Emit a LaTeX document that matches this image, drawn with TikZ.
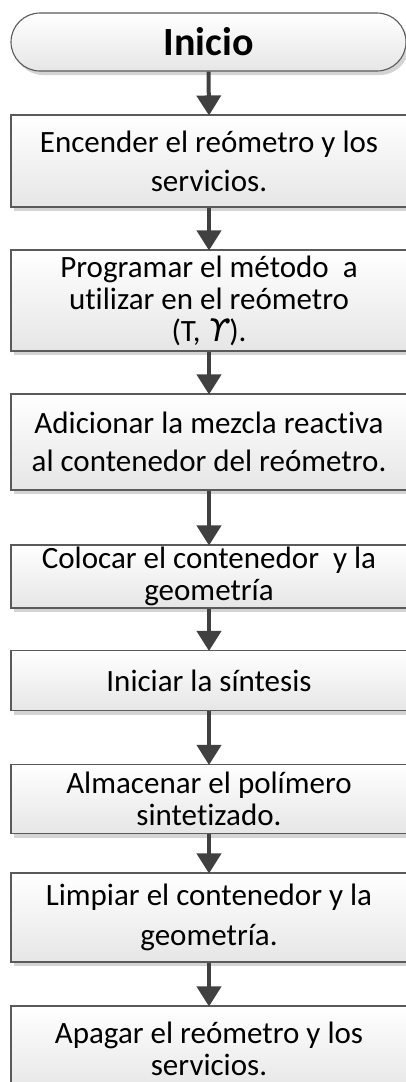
\documentclass[tikz,border=0pt]{standalone}
\usepackage{fontspec}
\setmainfont{Carlito}[Ligatures=NoCommon]
\newfontfamily\symfont{DejaVu Sans}
\usetikzlibrary{arrows.meta,shadows}
\definecolor{boxline}{HTML}{5A5A5A}
\definecolor{boxbot}{HTML}{E6E6E6}
\definecolor{shadowc}{HTML}{D4D4D4}
\definecolor{arrowc}{HTML}{404040}
\begin{document}
\begin{tikzpicture}[x=1pt,y=-1pt,
  base/.style={draw=boxline, line width=1.1pt, top color=white, bottom color=boxbot,
    inner sep=0pt, align=center, text=black,
    general shadow={fill=shadowc, shadow xshift=3pt, shadow yshift=-4pt}},
  box/.style={base, minimum width=396pt, font=\fontsize{31}{#1}\selectfont},
  term/.style={base, minimum width=395pt, minimum height=58pt, rounded corners=29pt,
    font=\fontsize{40}{44}\selectfont\bfseries},
  flow/.style={draw=arrowc, line width=4pt, -{Triangle[width=24pt,length=20pt]}, shorten >=-1pt}
]
\useasboundingbox (0,0) rectangle (406,1082);
\clip (0,0) rectangle (406,1082);
\node[term] (t) at (208.5,42) {Inicio};
\node[box=39, minimum height=92pt] (b1) at (209,161) {Encender el reómetro y los\\servicios.};
\node[box=32, minimum height=101pt] (b2) at (209,300.5) {Programar el método~ a\\utilizar en el reómetro\\(T, {\symfont\itshape ϒ}).};
\node[box=38, minimum height=96pt] (b3) at (209,442) {Adicionar la mezcla reactiva\\al contenedor del reómetro.};
\node[box=32, minimum height=63pt] (b4) at (209,576.5) {Colocar el contenedor~ y la\\geometría};
\node[box=32, minimum height=60pt] (b5) at (209,680.5) {Iniciar la síntesis};
\node[box=32, minimum height=69pt] (b6) at (209,799) {Almacenar el polímero\\sintetizado.};
\node[box=40, minimum height=89pt] (b7) at (209,917.5) {Limpiar el contenedor y la\\geometría.};
\node[box=32, minimum height=86pt] (b8) at (209,1049) {Apagar el reómetro y los\\servicios.};
\draw[flow] (t.south) -- (b1.north);
\draw[flow] (b1.south) -- (b2.north);
\draw[flow] (b2.south) -- (b3.north);
\draw[flow] (b3.south) -- (b4.north);
\draw[flow] (b4.south) -- (b5.north);
\draw[flow] (b5.south) -- (b6.north);
\draw[flow] (b6.south) -- (b7.north);
\draw[flow] (b7.south) -- (b8.north);
\end{tikzpicture}
\end{document}
